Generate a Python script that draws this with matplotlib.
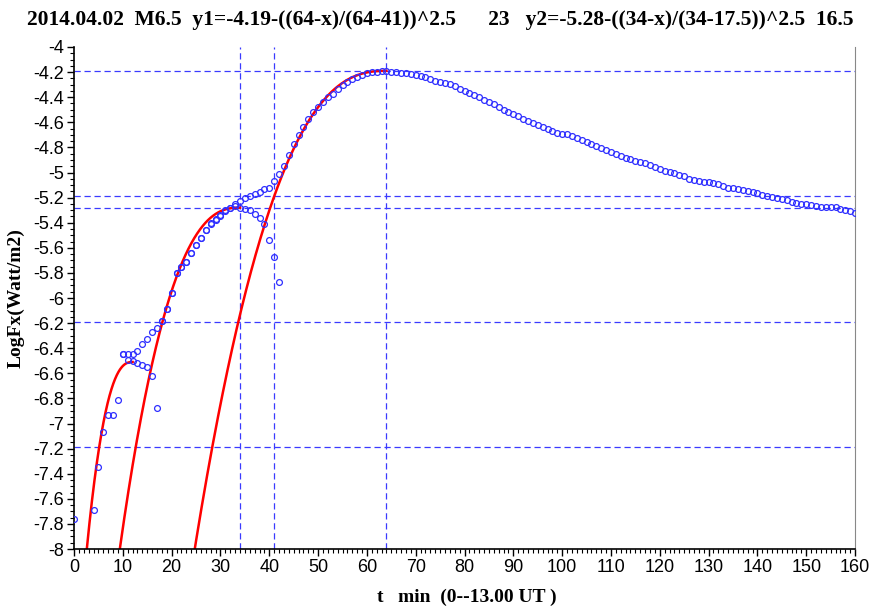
import numpy as np
import matplotlib
matplotlib.use('Agg')
import matplotlib.pyplot as plt
from matplotlib.ticker import MultipleLocator, FuncFormatter

# observed LogFx, one point per minute (x=1..3 missing)
t_obs = [0] + list(range(4, 161))
logfx = [
    -7.76,
    -7.69, -7.35, -7.07, -6.93, -6.93, -6.81, -6.45, -6.45, -6.45, -6.42,   # 4-13
    -6.37, -6.33, -6.27, -6.24, -6.18, -6.09, -5.96, -5.80, -5.755, -5.71,  # 14-23
    -5.644, -5.58, -5.52, -5.46, -5.405, -5.37, -5.34, -5.31, -5.28, -5.25, # 24-33
    -5.225, -5.205, -5.19, -5.17, -5.155, -5.135, -5.12, -5.07, -5.01, -4.945,  # 34-43
    -4.86, -4.775, -4.70, -4.64, -4.576, -4.52, -4.478, -4.44, -4.40, -4.372,   # 44-53
    -4.337, -4.305, -4.28, -4.257, -4.24, -4.225, -4.21, -4.20, -4.197, -4.194, # 54-63
    -4.194, -4.197, -4.20, -4.205, -4.21, -4.215, -4.223, -4.231, -4.242, -4.255,  # 64-73
    -4.268, -4.276, -4.284, -4.297, -4.311, -4.337, -4.353, -4.369, -4.385, -4.401,  # 74-83
    -4.422, -4.44, -4.457, -4.478, -4.502, -4.518, -4.537, -4.553, -4.571, -4.587,   # 84-93
    -4.606, -4.62, -4.637, -4.656, -4.669, -4.683, -4.693, -4.693, -4.709, -4.725,   # 94-103
    -4.741, -4.757, -4.773, -4.789, -4.807, -4.823, -4.839, -4.853, -4.866, -4.882,  # 104-113
    -4.895, -4.908, -4.916, -4.924, -4.938, -4.954, -4.975, -4.985, -4.994, -5.007,  # 114-123
    -5.017, -5.031, -5.049, -5.063, -5.068, -5.073, -5.078, -5.086, -5.094, -5.108,  # 124-133
    -5.121, -5.124, -5.131, -5.139, -5.147, -5.155, -5.166, -5.177, -5.185, -5.193,  # 134-143
    -5.201, -5.209, -5.222, -5.233, -5.241, -5.249, -5.254, -5.259, -5.265, -5.273,  # 144-153
    -5.278, -5.278, -5.278, -5.288, -5.299, -5.304, -5.323,                          # 154-160
]

# residual points (data minus fitted component)
t_res = list(range(10, 43))
resid = [
    -6.45, -6.49, -6.50, -6.52, -6.53, -6.55, -6.62, -6.88,          # 10-17
    -6.18, -6.09, -5.96, -5.80, -5.755, -5.71, -5.644, -5.58,        # 18-25
    -5.52, -5.46, -5.41, -5.375, -5.35, -5.30, -5.285, -5.27,        # 26-33
    -5.28, -5.29, -5.30, -5.33, -5.36, -5.41, -5.54, -5.67, -5.87,   # 34-42
]

# fitted curves  y = top - ((peak-x)/width)^2.5
fits = [(-4.19, 64, 23), (-5.28, 34, 16.5), (-6.51, 12, 8)]

hlines = [-4.19, -5.19, -5.28, -6.19, -7.19]
vlines = [34, 41, 64]

title = ('2014.04.02  M6.5  y1=-4.19-((64-x)/(64-41))^2.5      23   '
         'y2=-5.28-((34-x)/(34-17.5))^2.5  16.5')

fig = plt.figure(figsize=(8.7, 6.08), dpi=100)
ax = fig.add_axes([0.0851, 0.0970, 0.8977, 0.8257])

dash_col = '#3a3aff'
for h in hlines:
    ax.axhline(h, color=dash_col, lw=0.9, ls=(0, (5, 3)), zorder=1)
for v in vlines:
    ax.axvline(v, color=dash_col, lw=0.9, ls=(0, (5, 3)), zorder=1)

for top, peak, width in fits:
    xs = np.linspace(0, peak, 400)
    ys = top - ((peak - xs) / width) ** 2.5
    ax.plot(xs, ys, color='red', lw=1.8, zorder=2)

ax.plot(t_obs, logfx, 'o', mfc='none', mec='#2f2fff', ms=4.2, mew=0.9, zorder=3)
ax.plot(t_res, resid, 'o', mfc='none', mec='#2f2fff', ms=4.2, mew=0.9, zorder=3)

ax.set_xlim(0, 160)
ax.set_ylim(-8, -4)
ax.xaxis.set_major_locator(MultipleLocator(10))
ax.xaxis.set_minor_locator(MultipleLocator(1))
ax.yaxis.set_major_locator(MultipleLocator(0.2))
ax.yaxis.set_minor_locator(MultipleLocator(0.05))
ax.yaxis.set_major_formatter(FuncFormatter(lambda v, p: f'{v:g}'))

tick_font = ['Liberation Sans Narrow', 'Liberation Sans']
for lab in ax.get_xticklabels() + ax.get_yticklabels():
    lab.set_family(tick_font)
    lab.set_fontsize(13)
ax.tick_params(which='major', direction='out', length=5, width=1, pad=2)
ax.tick_params(which='minor', direction='out', length=3, width=0.8)

ax.spines['top'].set_visible(False)
ax.spines['right'].set_color('#888888')
ax.spines['left'].set_linewidth(1.2)
ax.spines['bottom'].set_linewidth(1.2)

serif = 'Liberation Serif'
fig.text(0.506, 0.967, title, ha='center', va='center', family=serif,
         weight='bold', fontsize=15.5)
ax.set_ylabel('LogFx(Watt/m2)', family=serif, weight='bold', fontsize=14, labelpad=6)
fig.text(0.537, 0.018, 't   min  (0--13.00 UT )', ha='center', va='center',
         family=serif, weight='bold', fontsize=14)

fig.savefig('out.png', dpi=100)
